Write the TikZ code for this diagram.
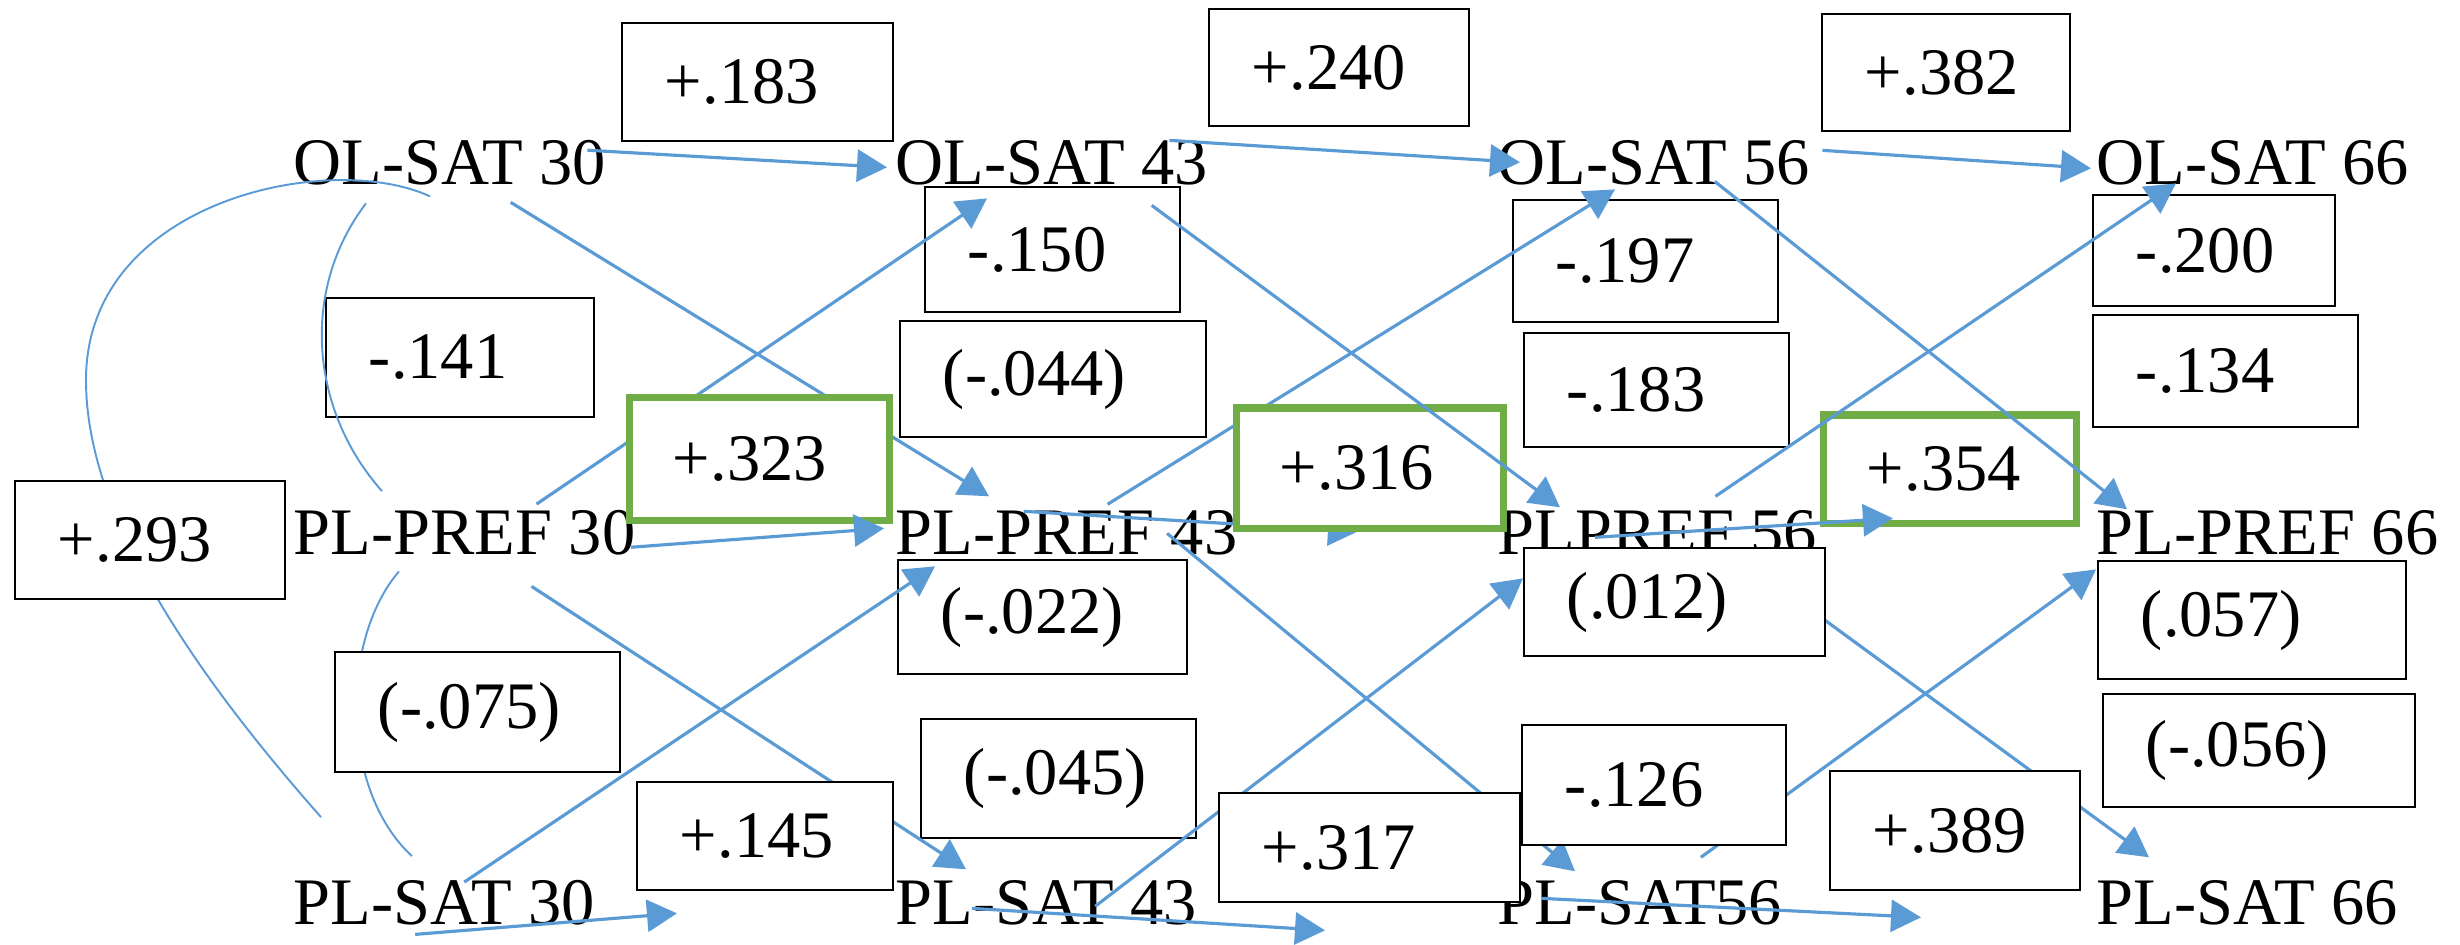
\documentclass[tikz,border=0pt]{standalone}
\usepackage{fontspec}
\setmainfont{Liberation Serif}
\usetikzlibrary{arrows.meta, calc}

\definecolor{linkblue}{HTML}{5B9BD5}
\definecolor{keygreen}{HTML}{70AD47}

\tikzset{
	var/.style={anchor=base west, inner sep=0pt, font=\fontsize{18.9}{22}\selectfont},
	val/.style 2 args={draw=black, line width=0.6pt, fill=white, inner xsep=0.43cm, inner ysep=0pt,
		text width=#1, minimum height=#2, align=left, font=\fontsize{18.9}{22}\selectfont},
	key/.style={draw=keygreen, line width=2pt},
	conn/.style={linkblue, line width=0.9pt, -{Triangle[length=0.3cm, width=0.32cm]}},
	curve/.style={draw=linkblue, line width=0.55pt},
}

\begin{document}
\begin{tikzpicture}[x=0.01cm, y=-0.01cm]
	\useasboundingbox (0,0) rectangle (2460,944);

	\begin{scope}[every node/.style={var}]
		\node (ol30) at (293,184) {OL-SAT 30};
		\node (ol43) at (895,184) {OL-SAT 43};
		\node (ol56) at (1497,184) {OL-SAT 56};
		\node (ol66) at (2096,184) {OL-SAT 66};

		\node (pp30) at (293,554) {PL-PREF 30};
		\node (pp43) at (895,554) {PL-PREF 43};
		\node (pp56) at (1497,554) {PLPREF 56};
		\node (pp66) at (2096,554) {PL-PREF 66};

		\node (ps30) at (293,924) {PL-SAT 30};
		\node (ps43) at (895,924) {PL-SAT 43};
		\node (ps56) at (1497,924) {PL-SAT56};
		\node (ps66) at (2096,924) {PL-SAT 66};
	\end{scope}

	% coefficients lying under the arrows
	\node[val={1.85cm}{1.18cm}] (v183) at (757.5,82) {+.183};
	\node[val={1.74cm}{1.17cm}] (v240) at (1339,67.5) {+.240};
	\node[val={1.62cm}{1.17cm}] (v382) at (1946,72.5) {+.382};
	\node[val={1.82cm}{1.19cm}] (v141) at (460,357.5) {-.141};
	\node[val={1.69cm}{1.25cm}] (v150) at (1052.5,249.5) {-.150};
	\node[val={2.20cm}{1.16cm}] (v044) at (1053,379) {(-.044)};
	\node[val={1.79cm}{1.22cm}] (v197) at (1645.5,261) {-.197};
	\node[val={1.79cm}{1.14cm}] (v183b) at (1656.5,390) {-.183};
	\node[val={1.56cm}{1.11cm}] (v200) at (2214,250.5) {-.200};
	\node[val={1.79cm}{1.12cm}] (v134) at (2225.5,371) {-.134};
	\node[val={1.66cm}{1.08cm}, key] (v354) at (1950,469) {+.354};
	\node[val={2.03cm}{1.14cm}] (v022) at (1042.5,617) {(-.022)};
	\node[val={1.89cm}{1.19cm}] (v045) at (1058.5,778.5) {(-.045)};
	\node[val={2.22cm}{1.18cm}] (v057) at (2252,620) {(.057)};
	\node[val={2.26cm}{1.13cm}] (v056) at (2259,750.5) {(-.056)};

	% curved links on the left
	\draw[curve] ($(ol30.south west)+(137,11)$) .. controls (330,150) and (86,200) .. (86,380)
		.. controls (86,520) and (200,680) .. ($(ps30.north west)+(28,-62)$);
	\draw[curve] ($(ol30.south west)+(73,18)$) .. controls (300,290) and (310,410) .. ($(pp30.north west)+(89,-18)$);
	\draw[curve] ($(pp30.south west)+(106,16)$) .. controls (340,640) and (340,790) .. ($(ps30.north west)+(119,-23)$);

	% arrows hidden by some boxes
	\begin{scope}
		\path[conn] ($(ol30.south)+(61,17)$) edge ($(pp43.north west)+(94,-13)$);
		\path[conn] ($(pp30.north)+(72,-5)$) edge ($(ol43.south west)+(92,13)$);
		\path[conn] ($(pp30.south)+(67,31)$) edge ($(ps43.north west)+(71,-10)$);
		\path[conn] ($(pp43.north)+(-43,2)$) edge ($(pp56.west)+(-139,-1)$);
		\path[conn] ($(pp43.north)+(41,-5)$) edge ($(ol56.south west)+(118,4)$);
		\path[conn] ($(pp43.east)+(-71,1)$) edge ($(ps56.north west)+(78,-8)$);
		\path[conn] ($(ps43.north)+(49,27)$) edge ($(pp56.south west)+(26,23)$);
		\path[conn] ($(pp56.south)+(83,3)$) edge ($(ps66.north west)+(53,-22)$);
		\path[conn] ($(ps56.north)+(61,-22)$) edge ($(pp66.south west)+(0,14)$);
	\end{scope}

	% coefficients lying over the arrows
	\node[val={1.84cm}{1.18cm}] (v293) at (150,540) {+.293};
	\node[val={1.99cm}{1.20cm}] (v075) at (477.5,712) {(-.075)};
	\node[val={1.73cm}{1.22cm}, key] (v323) at (759.5,459) {+.323};
	\node[val={1.70cm}{1.08cm}] (v145) at (765,836) {+.145};
	\node[val={1.80cm}{1.20cm}, key] (v316) at (1370,468) {+.316};
	\node[val={2.15cm}{1.09cm}] (v317) at (1369.5,847.5) {+.317};
	\node[val={2.15cm}{1.08cm}] (v012) at (1674.5,602) {(.012)};
	\node[val={1.78cm}{1.20cm}] (v126) at (1654,785) {-.126};
	\node[val={1.64cm}{1.19cm}] (v389) at (1955,830.5) {+.389};

	\begin{scope}
		\path[conn] ($(ol30.east)+(-19,-12)$) edge ($(ol43.west)+(-8,5)$);
		\path[conn] ($(ol43.east)+(-39,-22)$) edge ($(ol56.west)+(23,0)$);
		\path[conn] ($(ol56.east)+(12,-12)$) edge ($(ol66.west)+(-5,6)$);

		\path[conn] ($(pp30.east)+(-5,15)$) edge ($(pp43.west)+(-11,-4)$);
		\path[conn] ($(ps30.north)+(20,3)$) edge ($(pp43.south west)+(40,11)$);
		\path[conn] ($(ps30.south)+(-29,9)$) edge ($(ps43.west)+(-218,11)$);

		\path[conn] ($(ol43.south)+(100,20)$) edge ($(pp56.north west)+(63,-2)$);
		\path[conn] ($(ps43.west)+(77,6)$) edge ($(ps56.west)+(-172,28)$);

		\path[conn] ($(ol56.south)+(61,-4)$) edge ($(pp66.north west)+(31,0)$);
		\path[conn] ($(pp56.north)+(58,-13)$) edge ($(ol66.south west)+(80,-2)$);
		\path[conn] ($(pp56.west)+(98,5)$) edge ($(pp66.west)+(-203,-14)$);
		\path[conn] ($(ps56.west)+(44,-4)$) edge ($(ps66.west)+(-175,15)$);
	\end{scope}
\end{tikzpicture}
\end{document}
